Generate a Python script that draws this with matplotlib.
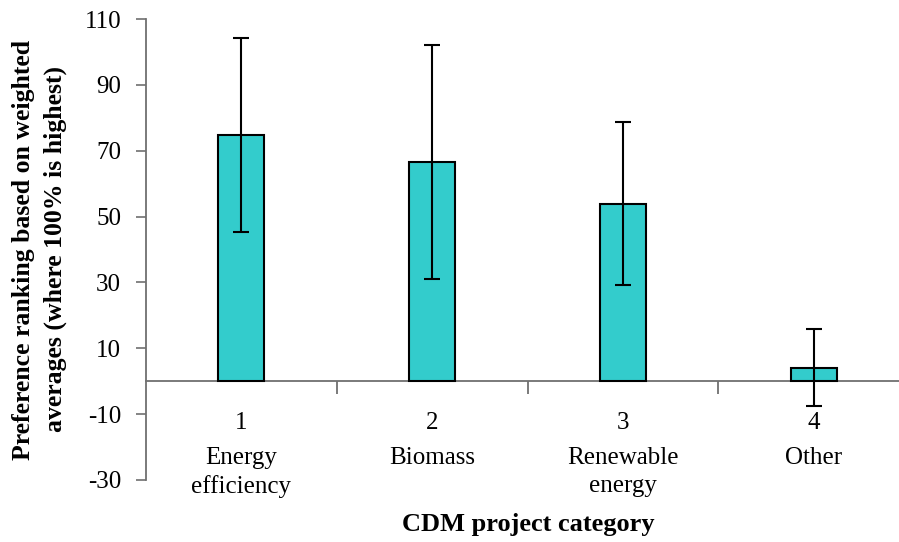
import numpy as np
import matplotlib
matplotlib.use('Agg')
import matplotlib.pyplot as plt

# ---------- data ----------
positions = [1, 2, 3, 4]
tick_nums = ['1', '2', '3', '4']
category_names = ['Energy\nefficiency', 'Biomass', 'Renewable\nenergy', 'Other']
pref_mean = [74.7, 66.5, 53.9, 4.1]
pref_err = [29.5, 35.5, 24.8, 11.7]

plt.rcParams['font.family'] = ['Liberation Serif', 'DejaVu Serif']
plt.rcParams['axes.unicode_minus'] = False

fig = plt.figure(figsize=(8.99, 5.42), dpi=100)
ax = fig.add_axes([146 / 899, 62 / 542, (909 - 146) / 899, 461 / 542])

ax.bar(positions, pref_mean, width=0.24, color='#33CCCC', edgecolor='black', linewidth=1.5,
       yerr=pref_err, error_kw=dict(ecolor='black', elinewidth=1.5, capsize=6, capthick=1.5),
       zorder=3)

ax.set_xlim(0.5, 4.5)
ax.set_ylim(-30, 110)
ax.set_yticks(np.arange(-30, 111, 20))
ax.tick_params(axis='y', labelsize=18, length=7, width=1.2, color='#707070', pad=11)

# x axis drawn through zero
for s in ('top', 'right'):
    ax.spines[s].set_visible(False)
ax.spines['bottom'].set_position(('data', 0))
ax.spines['bottom'].set_color('#707070')
ax.spines['bottom'].set_linewidth(1.3)
ax.spines['left'].set_color('#707070')
ax.spines['left'].set_linewidth(1.3)

ax.set_xticks(positions)
ax.set_xticklabels(tick_nums, fontsize=18)
ax.set_xticks([1.5, 2.5, 3.5], minor=True)
ax.tick_params(axis='x', which='major', length=0, pad=22)
ax.tick_params(axis='x', which='minor', length=9, width=1.3, color='#707070', direction='out')

xt = ax.get_xaxis_transform()
for p, name in zip(positions, category_names):
    ax.text(p, 0.072, name, transform=xt, ha='center', va='top', fontsize=18,
            linespacing=1.35)

ax.set_ylabel('Preference ranking based on weighted\naverages (where 100% is highest)',
              fontsize=18.5, fontweight='bold', linespacing=1.45)
ax.yaxis.set_label_coords(-0.104, 0.5)
fig.text(528 / 899, 1 - 524 / 542, 'CDM project category', ha='center', va='center',
         fontsize=19, fontweight='bold')

fig.savefig('out.png', dpi=100)
